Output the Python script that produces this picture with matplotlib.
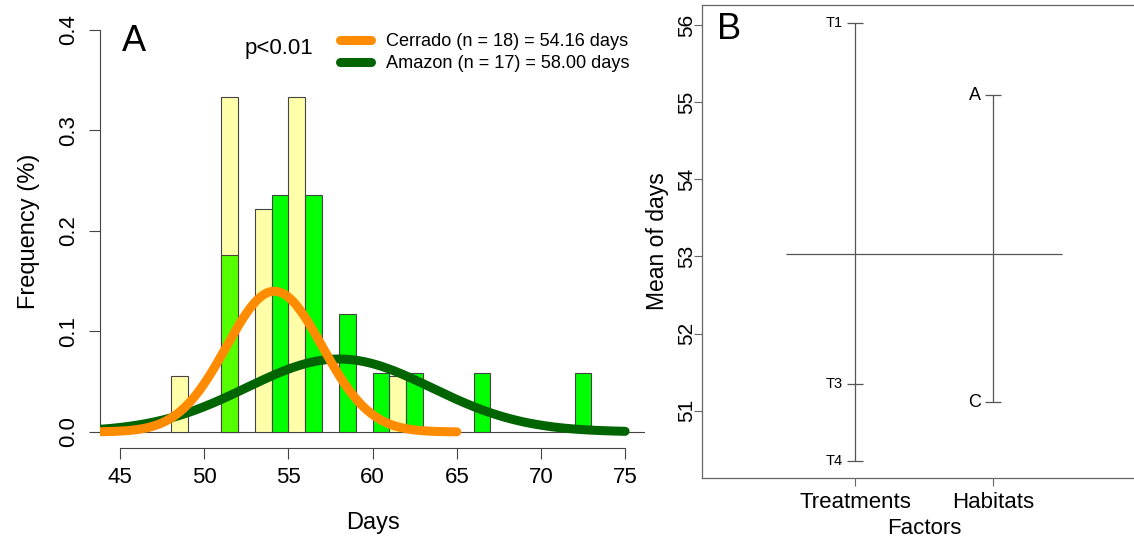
import numpy as np
import matplotlib.pyplot as plt

plt.rcParams['font.family'] = ['Liberation Sans', 'DejaVu Sans']

# panel A: days to emergence, counts per 1-day class
cerrado_days = [48, 51, 53, 55, 61]
cerrado_counts = [1, 6, 4, 6, 1]
amazon_days = [51, 54, 56, 58, 60, 62, 66, 72]
amazon_counts = [3, 4, 4, 2, 1, 1, 1, 1]
cerrado_n, amazon_n = 18, 17
cerrado_mean, cerrado_sd = 54.16, 2.85
amazon_mean, amazon_sd = 58.00, 5.5
p_text = "p<0.01"

# panel B: design plot of means
factors = ["Treatments", "Habitats"]
treat_levels = ["T1", "T3", "T4"]
treat_means = [56.03, 51.34, 50.35]
habitat_levels = ["A", "C"]
habitat_means = [55.09, 51.11]
grand_mean = 53.03


def dnorm(x, m, s):
    return np.exp(-0.5 * ((x - m) / s) ** 2) / (s * np.sqrt(2 * np.pi))


W, H = 1134, 539
fig = plt.figure(figsize=(W / 100, H / 100), dpi=100)
edge = '#444444'

# ---- panel A
ax = fig.add_axes([100 / W, (H - 448) / H, 545.3 / W, 434.2 / H])
ax.bar(cerrado_days, np.array(cerrado_counts) / cerrado_n, width=1, align='edge',
       color='#ffffaa', edgecolor=edge, linewidth=0.8, zorder=2)
green_cols = ['#55ff00'] + ['#00ff00'] * (len(amazon_days) - 1)
ax.bar(amazon_days, np.array(amazon_counts) / amazon_n, width=1, align='edge',
       color=green_cols, edgecolor=edge, linewidth=0.8, zorder=2)
ax.axhline(0, color=edge, lw=0.8, zorder=1)

xa = np.linspace(43.8, 75, 400)
xc = np.linspace(43.8, 65, 300)
ax.plot(xa, dnorm(xa, amazon_mean, amazon_sd), color='#006400', lw=6.5,
        solid_capstyle='round', zorder=3,
        label=f"Amazon (n = {amazon_n}) = {amazon_mean:.2f} days")
ax.plot(xc, dnorm(xc, cerrado_mean, cerrado_sd), color='#ff8c00', lw=6.5,
        solid_capstyle='round', zorder=4,
        label=f"Cerrado (n = {cerrado_n}) = {cerrado_mean:.2f} days")
h, l = ax.get_legend_handles_labels()
ax.legend(h[::-1], l[::-1], loc='center left', bbox_to_anchor=(0.44, 0.91),
          frameon=False, fontsize=13.1, handlelength=1.7, handletextpad=0.85,
          labelspacing=0.28, borderpad=0, borderaxespad=0)

ax.text(52.4, 0.381, p_text, fontsize=16, va='center', ha='left')
ax.text(45.1, 0.388, "A", fontsize=26, va='center', ha='left')

ax.set_xlim(43.8, 76.2)
ax.set_ylim(-0.016, 0.416)
for s in ['top', 'right']:
    ax.spines[s].set_visible(False)
ax.spines['bottom'].set_bounds(45, 75)
ax.spines['left'].set_bounds(0, 0.4)
for s in ['bottom', 'left']:
    ax.spines[s].set_color(edge)
    ax.spines[s].set_linewidth(0.8)
ax.set_xticks(range(45, 80, 5))
ax.set_yticks([0, 0.1, 0.2, 0.3, 0.4])
ax.set_yticklabels(["0.0", "0.1", "0.2", "0.3", "0.4"])
ax.tick_params(length=8, width=0.8, color=edge, labelsize=16)
ax.tick_params(axis='x', pad=6)
ax.tick_params(axis='y', pad=14.5)
for t in ax.get_yticklabels():
    t.set_rotation(90)
    t.set_va('center')
    t.set_ha('center')
ax.set_xlabel("Days", fontsize=17)
ax.xaxis.set_label_coords(0.5, -0.147)
ax.set_ylabel("Frequency (%)", fontsize=17)
ax.yaxis.set_label_coords(-0.11, 0.5)

# ---- panel B
bx = fig.add_axes([702 / W, (H - 478) / H, 444 / W, 473 / H])
bx.set_xlim(-0.109, 3.109)
bx.set_ylim(50.127, 56.262)
bx.hlines(grand_mean, 0.5, 2.5, color='#555555', lw=0.9)
for xpos, labs, vals, fs in [(1, treat_levels, treat_means, 10.5),
                             (2, habitat_levels, habitat_means, 13)]:
    bx.vlines(xpos, min(vals), max(vals), color='#555555', lw=0.9)
    bx.hlines(vals, xpos - 0.055, xpos + 0.055, color='#555555', lw=0.9)
    for lab, v in zip(labs, vals):
        bx.text(xpos - 0.09, v, lab, fontsize=fs, ha='right', va='center')
bx.text(0.0, 55.95, "B", fontsize=26, va='center', ha='left')

for s in bx.spines.values():
    s.set_color('#666666')
    s.set_linewidth(0.9)
bx.set_xticks([1, 2])
bx.set_xticklabels(factors)
bx.set_yticks(range(51, 57))
bx.tick_params(length=6, width=0.8, color='#666666', labelsize=15)
bx.tick_params(axis='x', labelsize=16, pad=4)
bx.tick_params(axis='y', pad=5)
for t in bx.get_yticklabels():
    t.set_rotation(90)
    t.set_va('center')
    t.set_ha('center')
bx.set_xlabel("Factors", fontsize=16)
bx.xaxis.set_label_coords(0.5, -0.085)
bx.set_ylabel("Mean of days", fontsize=16.5)
bx.yaxis.set_label_coords(-0.075, 0.5)

fig.savefig("out.png", dpi=100)
